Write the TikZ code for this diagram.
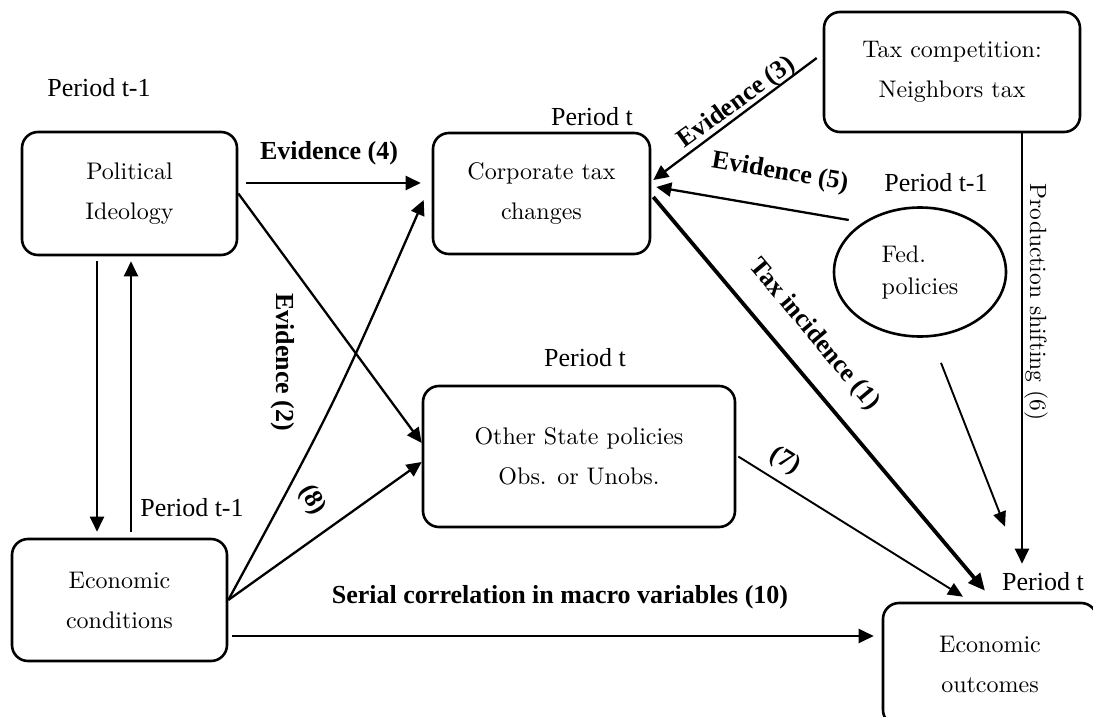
\documentclass[tikz,border=0pt]{standalone}
\usepackage{fontspec}
\newfontfamily\tms{Liberation Serif}
\newfontfamily\gar{lmroman10-regular.otf}
\usetikzlibrary{arrows.meta,shapes.geometric}
\begin{document}
\begin{tikzpicture}[x=1pt,y=-1pt,
  box/.style={draw, line width=2.6pt, rounded corners=16pt, align=center,
    font=\gar\fontsize{24}{40}\selectfont, inner sep=0pt},
  ell/.style={draw, ellipse, line width=2.6pt, align=left,
    font=\gar\fontsize{24}{32}\selectfont, inner sep=0pt},
  lbl/.style={font=\tms\fontsize{26}{30}\selectfont, inner sep=0pt},
  blbl/.style={font=\tms\bfseries\fontsize{26}{30}\selectfont, inner sep=0pt},
  glbl/.style={font=\gar\fontsize{23.5}{30}\selectfont, inner sep=0pt},
  arr/.style={line width=2.3pt, -{Triangle[length=15pt,width=14pt]}},
  thickarr/.style={line width=3.8pt, -{Triangle[length=17pt,width=15pt]}},
  thinarr/.style={line width=1.9pt, -{Triangle[length=15pt,width=13pt]}}
]
\useasboundingbox (0,0) rectangle (1093,717);
\clip (0,0) rectangle (1093,717);

% boxes
\node[box, minimum width=215pt, minimum height=123pt] (pi) at (129.5,193.5) {Political\\Ideology};
\node[box, minimum width=217pt, minimum height=121pt] (ct) at (541.5,193.5) {Corporate tax\\changes};
\node[box, minimum width=256pt, minimum height=120pt] (tc) at (952,72) {Tax competition:\\Neighbors tax};
\node[box, minimum width=312pt, minimum height=141pt] (os) at (579,456.5) {Other State policies\\Obs. or Unobs.};
\node[box, minimum width=215pt, minimum height=122pt] (ec) at (119.5,600) {Economic\\conditions};
\node[box, minimum width=214pt, minimum height=123pt] (eo) at (990,664.5) {Economic\\outcomes};
\node[ell, minimum width=172pt, minimum height=129pt] (fp) at (920,272) {Fed.\\policies};

% labels
\node[lbl] (l1) at (99,88) {Period t-1};
\node[lbl] (l2) at (592,117) {Period t};
\node[lbl] (l3) at (936,183) {Period t-1};
\node[lbl] (l4) at (585,358) {Period t};
\node[lbl] (l5) at (192,508) {Period t-1};
\node[lbl] (l6) at (1043,582) {Period t};
\node[blbl] (e4) at (329,153) {Evidence (4)};
\node[blbl, rotate=36] (e3) at (737,103) {Evidence (3)};
\node[blbl, rotate=-9.5] (e5) at (780,173) {Evidence (5)};
\node[blbl, rotate=-50] (e1) at (814,335) {Tax incidence (1)};
\node[blbl, rotate=-90] (e2) at (283,362) {Evidence (2)};
\node[blbl, rotate=-32] (e7) at (785,461) {(7)};
\node[blbl, rotate=-60] (e8) at (312,500) {(8)};
\node[blbl] (e10) at (560,597) {Serial correlation in macro variables (10)};
\node[glbl, rotate=-90] (e6) at (1036,302) {Production shifting (6)};

% connectors
\draw[arr, shorten <=8pt, shorten >=11pt] ([yshift=10.5pt]pi.east) -- ([yshift=10.5pt]ct.west);
\draw[arr] (pi.east) -- ([yshift=13.5pt]os.west);
\draw[arr] (ec.east) .. controls (334,405) .. ([xshift=-8pt,yshift=-6.5pt]ct.west);
\draw[arr] (ec.east) -- ([yshift=-5.5pt]os.west);
\draw[arr] ([xshift=4pt,yshift=-36pt]ec.east) -- ([xshift=-8pt,yshift=28.5pt]eo.west);
\draw[arr] ([xshift=-32.5pt,yshift=-5pt]pi.south) -- ([xshift=-22.5pt,yshift=6pt]ec.north);
\draw[arr] ([xshift=11.5pt,yshift=6pt]ec.north) -- ([xshift=1.5pt,yshift=-5pt]pi.south);
\draw[arr] ([xshift=-6pt,yshift=14pt]tc.west) -- ([xshift=2pt,yshift=13.5pt]ct.east);
\draw[arr] ([xshift=16pt,yshift=52pt]fp.west) -- ([xshift=5pt,yshift=6.5pt]ct.east);
\draw[thickarr] ([xshift=2pt,yshift=-3.5pt]ct.east) -- ([xshift=-5pt,yshift=11pt]eo.north);
\draw[thinarr] ([xshift=2pt]os.east) -- ([xshift=-27pt,yshift=5pt]eo.north);
\draw[thinarr] ([xshift=21pt,yshift=-25pt]fp.south) -- ([xshift=15pt,yshift=75pt]eo.north);
\draw[arr] ([xshift=70pt]tc.south) -- ([xshift=32pt,yshift=38pt]eo.north);
\end{tikzpicture}
\end{document}
